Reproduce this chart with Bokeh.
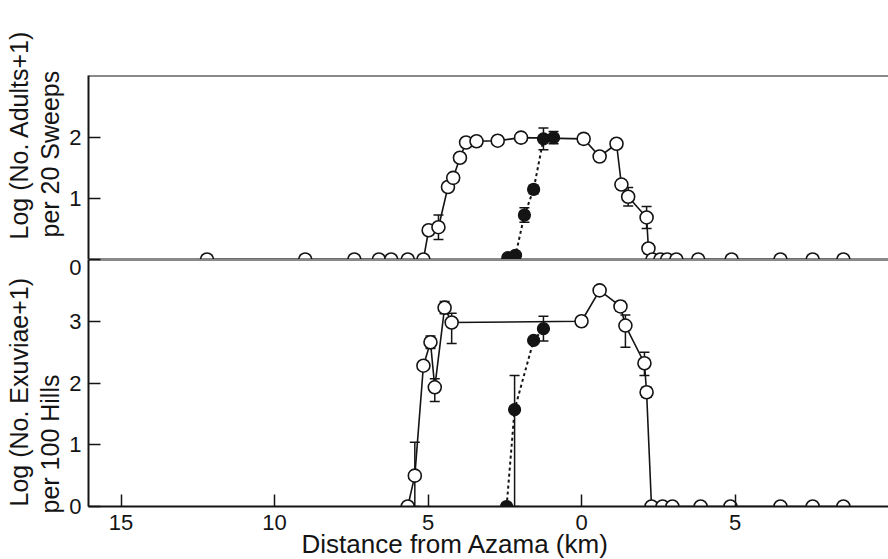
from bokeh.plotting import figure
from bokeh.layouts import column
from bokeh.models import (ColumnDataSource, Whisker, TeeHead, FixedTicker, Span,
                          Range1d, Title)
from bokeh.embed import file_html
from bokeh.resources import INLINE

# ---------------- data ----------------
tick_values = [-15, -10, -5, 0, 5]
tick_labels = ["15", "10", "5", "0", "5"]

# Adults (top panel), open circles, solid line
adults_open_x = [-12.2, -9.0, -7.4, -6.6, -6.2, -5.66, -5.15, -4.98, -4.66, -4.35, -4.18,
                 -3.96, -3.76, -3.42, -2.73, -1.97, 0.07, 0.59, 1.14, 1.30, 1.52, 2.12,
                 2.18, 2.31, 2.57, 2.79, 3.09, 3.80, 4.89, 6.48, 7.53, 8.53]
adults_open_y = [0, 0, 0, 0, 0, 0, 0, 0.48, 0.53, 1.19, 1.34,
                 1.67, 1.92, 1.94, 1.95, 2.00, 1.98, 1.69, 1.90, 1.23, 1.03, 0.69,
                 0.18, 0, 0, 0, 0, 0, 0, 0, 0, 0]
adults_open_err = [0, 0, 0, 0, 0, 0, 0, 0, 0.20, 0, 0.07,
                   0.07, 0.07, 0.08, 0.07, 0.08, 0.08, 0.07, 0.07, 0.07, 0.15, 0.18,
                   0.08, 0, 0, 0, 0, 0, 0, 0, 0, 0]

# Adults, filled circles, dotted line
adults_fill_x = [-2.40, -2.15, -1.86, -1.56, -1.24, -0.91]
adults_fill_y = [0.03, 0.07, 0.73, 1.15, 1.98, 2.00]
adults_fill_err = [0, 0, 0.12, 0.07, 0.18, 0.10]

# Exuviae (bottom panel), open circles, solid line
ex_open_x = [-5.66, -5.43, -5.15, -4.92, -4.78, -4.46, -4.23, 0.00, 0.59, 1.27, 1.43,
             2.05, 2.12, 2.28, 2.64, 2.96, 3.88, 4.85, 6.48, 7.53, 8.53]
ex_open_y = [0, 0.50, 2.28, 2.66, 1.93, 3.22, 2.98, 3.00, 3.50, 3.24, 2.93,
             2.32, 1.85, 0, 0, 0, 0, 0, 0, 0, 0]
ex_open_lo = [0, 0.50, 0, 0.10, 0.23, 0.10, 0.34, 0, 0.07, 0.08, 0.35,
              0.20, 0.08, 0, 0, 0, 0, 0, 0, 0, 0]
ex_open_hi = [0, 0.54, 0, 0.10, 0.14, 0.10, 0.15, 0, 0.07, 0.08, 0.17,
              0.18, 0.08, 0, 0, 0, 0, 0, 0, 0, 0]

# Exuviae, filled circles, dotted line
ex_fill_x = [-2.44, -2.18, -1.56, -1.24]
ex_fill_y = [0, 1.57, 2.69, 2.88]
ex_fill_lo = [0, 1.57, 0, 0.20]
ex_fill_hi = [0, 0.55, 0, 0.20]

# ---------------- layout constants ----------------
FONT = "Liberation Sans"
INK = "#141414"
W = 888
LEFT = 88
X_START, X_END = -16.06, 10.0
TOP_BORDER = 75
TOP_FRAME_H = 184
Y1_END = 3.02
BOT_FRAME_H = 247
Y2_END = 4.0
BOT_H = 559 - (TOP_BORDER + TOP_FRAME_H)


def err_source(xs, ys, lo, hi):
    keep = [i for i in range(len(xs)) if lo[i] > 0 or hi[i] > 0]
    return ColumnDataSource(dict(
        x=[xs[i] for i in keep],
        upper=[ys[i] + hi[i] for i in keep],
        lower=[ys[i] - lo[i] for i in keep],
    ))


def add_whiskers(p, src):
    w = Whisker(source=src, base="x", upper="upper", lower="lower",
                line_color=INK, line_width=1.5,
                upper_head=TeeHead(size=10, line_color=INK, line_width=1.5),
                lower_head=TeeHead(size=10, line_color=INK, line_width=1.5))
    p.add_layout(w)


def style_yaxis(p, ticks, overrides=None):
    ax = p.yaxis[0]
    ax.ticker = FixedTicker(ticks=ticks)
    ax.minor_tick_line_color = None
    ax.major_tick_in = 12
    ax.major_tick_out = 0
    ax.major_tick_line_width = 1.5
    ax.major_tick_line_color = INK
    ax.axis_line_width = 2
    ax.axis_line_color = INK
    ax.major_label_text_font = FONT
    ax.major_label_text_font_size = "22px"
    ax.major_label_text_color = INK
    ax.major_label_standoff = 7
    if overrides:
        ax.major_label_overrides = overrides


def side_title(p, text, offset, side="left", size="25px", standoff=0, valign="middle"):
    p.add_layout(Title(text=text, align="left", offset=offset, standoff=standoff,
                       vertical_align=valign,
                       text_font=FONT, text_font_size=size, text_font_style="normal",
                       text_color=INK), side)


# ---------------- top panel ----------------
p1 = figure(width=W, height=TOP_BORDER + TOP_FRAME_H,
            x_range=Range1d(X_START, X_END), y_range=Range1d(0, Y1_END),
            x_axis_location=None, output_backend="svg", toolbar_location=None,
            min_border_left=LEFT, min_border_right=0, min_border_top=TOP_BORDER,
            min_border_bottom=0)
p1.outline_line_color = None
p1.grid.grid_line_color = None
style_yaxis(p1, [0, 1, 2], {0: ""})

p1.add_layout(Span(location=Y1_END, dimension="width", line_color=INK, line_width=2))
p1.add_layout(Span(location=0, dimension="width", line_color=INK, line_width=2))

p1.line(adults_open_x, adults_open_y, line_color=INK, line_width=1.6)
p1.line(adults_fill_x, adults_fill_y, line_color=INK, line_width=2, line_dash="3 3")
p1.scatter(adults_open_x, adults_open_y, marker="circle", size=13,
           fill_color="white", line_color=INK, line_width=1.6)
p1.scatter(adults_fill_x, adults_fill_y, marker="circle", size=12,
           fill_color=INK, line_color=INK, line_width=1.2)
add_whiskers(p1, err_source(adults_open_x, adults_open_y, adults_open_err, adults_open_err))
add_whiskers(p1, err_source(adults_fill_x, adults_fill_y, adults_fill_err, adults_fill_err))

side_title(p1, "per 20 Sweeps", 22, standoff=4)
side_title(p1, "Log (No. Adults+1)", 20, standoff=-3)

# ---------------- bottom panel ----------------
p2 = figure(width=W, height=BOT_H,
            x_range=p1.x_range, y_range=Range1d(0, Y2_END),
            output_backend="svg", toolbar_location=None,
            min_border_left=LEFT, min_border_right=0, min_border_top=0,
            min_border_bottom=BOT_H - BOT_FRAME_H)
p2.outline_line_color = None
p2.grid.grid_line_color = None
style_yaxis(p2, [0, 1, 2, 3, 4], {4: "0"})

xa = p2.xaxis[0]
xa.ticker = FixedTicker(ticks=tick_values)
xa.major_label_overrides = dict(zip(tick_values, tick_labels))
xa.minor_tick_line_color = None
xa.major_tick_in = 12
xa.major_tick_out = 0
xa.major_tick_line_width = 1.5
xa.major_tick_line_color = INK
xa.axis_line_width = 2
xa.axis_line_color = INK
xa.major_label_text_font = FONT
xa.major_label_text_font_size = "22px"
xa.major_label_text_color = INK
xa.major_label_standoff = 8

p2.add_layout(Span(location=Y2_END, dimension="width", line_color=INK, line_width=2))

p2.line(ex_open_x, ex_open_y, line_color=INK, line_width=1.6)
p2.line(ex_fill_x, ex_fill_y, line_color=INK, line_width=2, line_dash="3 3")
p2.scatter(ex_open_x, ex_open_y, marker="circle", size=13,
           fill_color="white", line_color=INK, line_width=1.6)
p2.scatter(ex_fill_x, ex_fill_y, marker="circle", size=12,
           fill_color=INK, line_color=INK, line_width=1.2)
add_whiskers(p2, err_source(ex_open_x, ex_open_y, ex_open_lo, ex_open_hi))
add_whiskers(p2, err_source(ex_fill_x, ex_fill_y, ex_fill_lo, ex_fill_hi))

side_title(p2, "per 100 Hills", -7, standoff=4)
side_title(p2, "Log (No. Exuviae+1)", 0, standoff=-3)
side_title(p2, "Distance from Azama (km)", 213, side="below", size="26px", standoff=-10)

layout = column(p1, p2)
open("out.html", "w").write(file_html(layout, INLINE))
